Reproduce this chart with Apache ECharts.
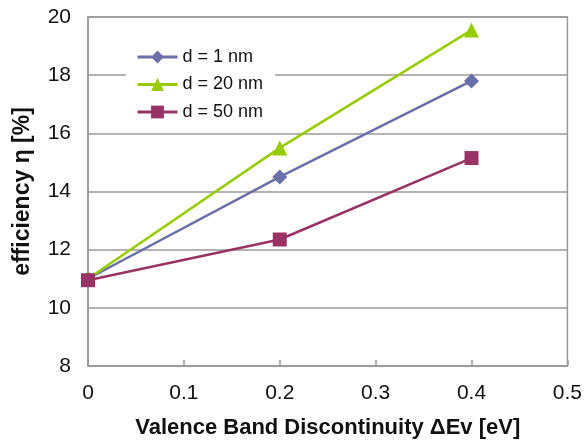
<!DOCTYPE html>
<html><head><meta charset="utf-8">
<script src="https://cdn.jsdelivr.net/npm/echarts@6/dist/echarts.min.js"></script>
<style>html,body{margin:0;padding:0;background:#fff}#c{width:585px;height:444px}</style>
</head><body><div id="c"></div>
<script>
const xValues = [0, 0.2, 0.4];
const seriesNames = ['d = 1 nm', 'd = 20 nm', 'd = 50 nm'];
const d1 = [11.0, 14.5, 17.8];
const d20 = [11.0, 15.5, 19.55];
const d50 = [10.95, 12.35, 15.15];
const colors = ['#6B6FA8', '#99CC00', '#993366'];
const symbols = ['diamond', 'triangle', 'rect'];
const symbolSizes = [15, 15, 14];
const allData = [d1, d20, d50];

const chart = echarts.init(document.getElementById('c'));
const font = 'Liberation Sans, Arial, sans-serif';
chart.setOption({
  animation: false,
  grid: {left: 88, right: 16, top: 17, bottom: 77, show: true, borderColor: '#999', borderWidth: 1.5},
  legend: {
    orient: 'vertical', left: 126, top: 44, itemGap: 9.5, itemWidth: 40, itemHeight: 16,
    backgroundColor: '#fff', padding: [4, 12, 4, 10],
    textStyle: {fontFamily: font, fontSize: 18, color: '#111'},
    data: seriesNames.map((n, i) => ({name: n, itemStyle: {color: colors[i]}, lineStyle: {width: 3}}))
  },
  xAxis: {
    type: 'value', min: 0, max: 0.5, interval: 0.1,
    name: 'Valence Band Discontinuity ΔEv [eV]', nameLocation: 'middle', nameGap: 51,
    nameTextStyle: {fontFamily: font, fontSize: 22, fontWeight: 'bold', color: '#111'},
    axisLine: {lineStyle: {color: '#999', width: 1.5}},
    axisTick: {inside: true, length: 6, lineStyle: {color: '#999', width: 1.5}},
    splitLine: {show: false},
    axisLabel: {fontFamily: font, fontSize: 21, color: '#111', margin: 17,
      formatter: v => String(Math.round(v * 10) / 10)}
  },
  yAxis: {
    type: 'value', min: 8, max: 20, interval: 2,
    name: 'efficiency η [%]', nameLocation: 'middle', nameGap: 54,
    nameTextStyle: {fontFamily: font, fontSize: 23, fontWeight: 'bold', color: '#111'},
    axisLine: {show: true, lineStyle: {color: '#999', width: 1.5}},
    axisTick: {show: false},
    splitLine: {lineStyle: {color: '#999', width: 1.5}},
    axisLabel: {fontFamily: font, fontSize: 21, color: '#111', margin: 17}
  },
  series: seriesNames.map((n, i) => ({
    name: n, type: 'line',
    data: xValues.map((x, j) => [x, allData[i][j]]),
    symbol: symbols[i], symbolSize: symbolSizes[i],
    lineStyle: {color: colors[i], width: 2.5},
    itemStyle: {color: colors[i]},
    z: 2 + i
  }))
});
</script></body></html>
